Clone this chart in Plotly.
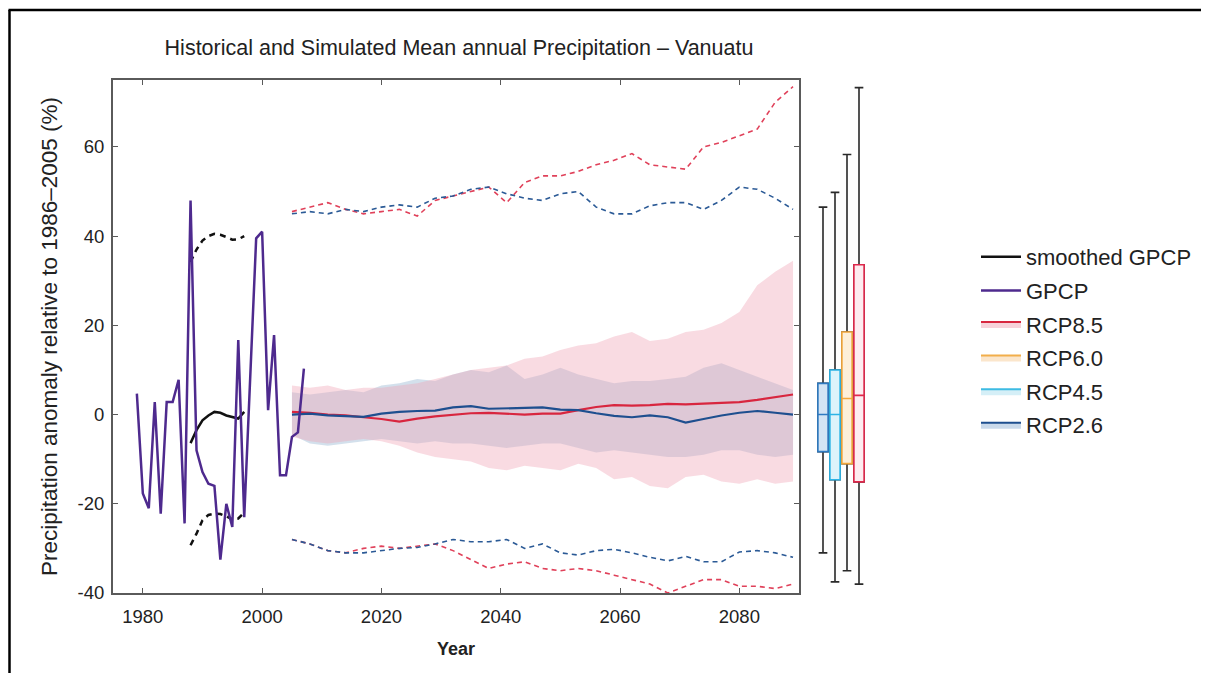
import plotly.graph_objects as go

# ---------------- data ----------------
gpcp_years = list(range(1979, 2008))
gpcp = [4.7, -17.7, -21.0, 2.8, -22.2, 2.8, 2.8, 7.8, -24.4, 48.0,
        -8.0, -12.9, -15.5, -16.0, -32.5, -20.0, -25.2, 16.7, -23.0, 8.0,
        39.5, 41.0, 1.0, 17.8, -13.6, -13.6, -5.0, -4.0, 10.3]

smooth_years = list(range(1988, 1998))
gpcp_smooth = [-6.4, -3.5, -1.3, -0.2, 0.6, 0.4, -0.2, -0.5, -0.9, 0.6]
gpcp_smooth_hi = [34.2, 37.0, 39.0, 40.0, 40.5, 40.3, 39.8, 39.2, 39.3, 40.0]
gpcp_smooth_lo = [-29.3, -26.7, -23.7, -22.5, -22.2, -22.3, -22.8, -23.5, -23.3, -22.0]

proj_years = list(range(2005, 2090, 3))

rcp85_mean = [0.6, 0.4, 0.0, -0.2, -0.6, -1.0, -1.6, -0.9, -0.4, 0.0,
              0.3, 0.4, 0.2, 0.0, 0.2, 0.2, 1.0, 1.7, 2.1, 2.0,
              2.1, 2.4, 2.3, 2.5, 2.6, 2.8, 3.3, 3.9, 4.5]
rcp26_mean = [0.0, 0.2, -0.2, -0.3, -0.5, 0.2, 0.6, 0.8, 0.9, 1.6,
              1.9, 1.3, 1.4, 1.5, 1.6, 1.1, 1.0, 0.3, -0.3, -0.6,
              -0.2, -0.6, -1.8, -1.0, -0.2, 0.4, 0.8, 0.4, 0.0]

rcp85_hi = [6.5, 6.0, 6.5, 5.5, 6.0, 6.0, 6.5, 7.0, 8.0, 9.0,
            10.0, 10.5, 11.0, 12.5, 13.0, 14.5, 15.5, 16.0, 17.5, 18.5,
            16.5, 17.0, 18.5, 19.0, 20.5, 23.0, 29.0, 32.0, 34.5]
rcp85_lo = [-5.0, -6.0, -6.5, -6.0, -5.5, -6.0, -7.0, -8.5, -9.5, -10.0,
            -10.5, -12.0, -12.5, -11.5, -12.0, -12.5, -11.0, -12.0, -14.5, -14.0,
            -16.0, -16.5, -14.0, -13.5, -15.0, -15.5, -14.5, -15.5, -15.0]
rcp26_hi = [5.0, 4.5, 5.0, 5.5, 5.0, 6.5, 7.0, 8.0, 7.5, 9.0,
            10.0, 9.5, 11.0, 8.0, 9.0, 10.5, 9.0, 8.0, 7.0, 7.5,
            7.5, 8.0, 8.5, 10.5, 11.5, 10.0, 8.5, 7.0, 5.5]
rcp26_lo = [-4.5, -6.5, -7.0, -6.5, -6.0, -5.5, -6.0, -6.5, -6.0, -6.5,
            -6.5, -7.0, -7.5, -7.0, -6.5, -6.5, -7.5, -8.5, -8.0, -8.5,
            -9.0, -9.5, -9.5, -9.0, -8.0, -8.0, -9.0, -9.5, -9.0]

rcp85_max = [45.5, 46.5, 47.5, 46.0, 45.0, 45.5, 46.0, 44.5, 48.0, 49.0,
             50.0, 51.0, 47.5, 52.0, 53.5, 53.5, 54.5, 56.0, 57.0, 58.5,
             56.0, 55.5, 55.0, 60.0, 61.0, 62.5, 64.0, 70.0, 73.5]
rcp85_min = [-28.0, -29.0, -30.5, -31.0, -30.0, -29.5, -30.0, -29.5, -29.0, -30.5,
             -32.5, -34.5, -33.5, -33.0, -34.5, -35.0, -34.5, -35.0, -36.0, -37.0,
             -38.0, -40.0, -38.5, -37.0, -37.0, -38.5, -38.5, -39.0, -38.0]
rcp26_max = [45.0, 45.5, 45.0, 46.0, 45.5, 46.5, 47.0, 46.5, 48.5, 49.0,
             50.5, 51.0, 49.5, 48.5, 48.0, 49.5, 50.0, 46.5, 45.0, 45.0,
             46.8, 47.5, 47.5, 46.0, 48.0, 51.0, 50.5, 48.5, 46.0]
rcp26_min = [-28.0, -29.0, -30.5, -31.0, -31.0, -30.5, -30.0, -29.8, -29.0, -28.0,
             -28.5, -28.5, -28.0, -30.0, -29.0, -31.0, -31.5, -30.5, -30.2, -31.0,
             -32.0, -32.8, -31.8, -33.0, -33.0, -30.8, -30.5, -31.0, -32.0]

# end-of-century box plots
box_names = ["RCP2.6", "RCP4.5", "RCP6.0", "RCP8.5"]
box_low = [-31.0, -37.5, -35.0, -38.0]
box_q1 = [-8.3, -14.6, -11.0, -15.1]
box_med = [0.0, 0.0, 3.6, 4.3]
box_q3 = [7.0, 10.0, 18.5, 33.6]
box_high = [46.5, 49.8, 58.3, 73.3]

x_ticks = [1980, 2000, 2020, 2040, 2060, 2080]
y_ticks = [-40, -20, 0, 20, 40, 60]

legend_names = ["smoothed GPCP", "GPCP", "RCP8.5", "RCP6.0", "RCP4.5", "RCP2.6"]

# ---------------- styles ----------------
FONT = "Liberation Sans, Arial, Helvetica, sans-serif"
TXT = "#222222"
C85, C60, C45, C26 = "#D8263F", "#F2AE4A", "#3DBBE3", "#1E4F8F"
BAND85 = "rgba(240,165,182,0.40)"
BAND26 = "rgba(130,165,200,0.35)"
box_line = ["#2F7BC2", "#2DB4E6", "#F3A83C", "#E0294C"]
box_fill = ["#D3E4F4", "#DDF3FB", "#FDEFD9", "#FDECF0"]
leg_band = ["#F7D2DA", "#FBE6CC", "#D5EFF7", "#CADAEB"]

fig = go.Figure()

def line(x, y, color, width, dash="solid", name=None, legend=False, rank=None):
    fig.add_trace(go.Scatter(x=x, y=y, mode="lines", name=name,
                             line=dict(color=color, width=width, dash=dash),
                             showlegend=legend, legendrank=rank,
                             legendgroup=name, hoverinfo="skip"))

# bands (RCP2.6 underneath, RCP8.5 translucent on top)
fig.add_trace(go.Scatter(x=proj_years, y=rcp26_hi, mode="lines", line=dict(width=0),
                         showlegend=False, hoverinfo="skip"))
fig.add_trace(go.Scatter(x=proj_years, y=rcp26_lo, mode="lines", line=dict(width=0),
                         fill="tonexty", fillcolor=BAND26, showlegend=False, hoverinfo="skip"))
fig.add_trace(go.Scatter(x=proj_years, y=rcp85_hi, mode="lines", line=dict(width=0),
                         showlegend=False, hoverinfo="skip"))
fig.add_trace(go.Scatter(x=proj_years, y=rcp85_lo, mode="lines", line=dict(width=0),
                         fill="tonexty", fillcolor=BAND85, showlegend=False, hoverinfo="skip"))

DASH = "5px,4px"
line(proj_years, rcp85_max, "#E0415A", 1.6, DASH)
line(proj_years, rcp85_min, "#E0415A", 1.6, DASH)
line(proj_years, rcp26_max, "#2B5A96", 1.6, DASH)
line(proj_years, rcp26_min, "#2B5A96", 1.6, DASH)

line(proj_years, rcp85_mean, C85, 2.2)
line(proj_years, rcp26_mean, C26, 2.2)

line(smooth_years, gpcp_smooth_hi, "#111111", 2.5, "6px,5px")
line(smooth_years, gpcp_smooth_lo, "#111111", 2.5, "6px,5px")
line(smooth_years, gpcp_smooth, "#111111", 2.5, name=legend_names[0], legend=True, rank=1)
line(gpcp_years, gpcp, "#4E2A8E", 2.5, name=legend_names[1], legend=True, rank=2)

# legend entries for the scenarios (band + central line)
for nm, lc, bc, rk in zip(legend_names[2:], [C85, C60, C45, C26], leg_band, [3, 4, 5, 6]):
    fig.add_trace(go.Scatter(x=[None], y=[None], mode="lines", name=nm, fill="toself",
                             fillcolor=bc, line=dict(color=lc, width=2),
                             showlegend=True, legendrank=rk, legendgroup=nm))

# box plots: whiskers (dark) then coloured boxes on top
for i, nm in enumerate(box_names):
    fig.add_trace(go.Box(x=[i], q1=[box_q1[i]], median=[box_med[i]], q3=[box_q3[i]],
                         lowerfence=[box_low[i]], upperfence=[box_high[i]],
                         xaxis="x2", yaxis="y", width=0.85, whiskerwidth=0.85,
                         line=dict(color="#2a2a2a", width=1.6), fillcolor="rgba(0,0,0,0)",
                         showlegend=False, hoverinfo="skip"))
    fig.add_trace(go.Box(x=[i], q1=[box_q1[i]], median=[box_med[i]], q3=[box_q3[i]],
                         lowerfence=[box_q1[i]], upperfence=[box_q3[i]],
                         xaxis="x2", yaxis="y", width=0.85, whiskerwidth=0,
                         line=dict(color=box_line[i], width=1.6), fillcolor=box_fill[i],
                         showlegend=False, hoverinfo="skip"))

# page body has an 8px margin -> work in screen pixels, offset by 8
OFF = 8
W, H = 1209 - OFF, 673 - OFF
L, T = 113 - OFF, 80 - OFF
pw, ph = 753, 513
R = W - L - pw
B = H - T - ph

def px(xs):
    return (xs - OFF - L) / pw

def py(ys):
    return (H - B - (ys - OFF)) / ph

axis_common = dict(showline=True, linecolor="#5a5a5a", linewidth=2, mirror="ticks",
                   ticks="inside", ticklen=5, tickcolor="#5a5a5a", tickwidth=1,
                   showgrid=False, zeroline=False,
                   tickfont=dict(family=FONT, size=18.5, color=TXT))

fig.update_layout(
    width=W, height=H,
    margin=dict(l=L, r=R, t=T, b=B, autoexpand=False),
    paper_bgcolor="white", plot_bgcolor="white",
    boxmode="overlay",
    title=dict(text="Historical and Simulated Mean annual Precipitation \u2013 Vanuatu",
               x=px(459), xref="paper", xanchor="center",
               y=1 - (47 - OFF) / H, yref="container", yanchor="middle",
               font=dict(family=FONT, size=21.5, color=TXT)),
    xaxis=dict(domain=[0, px(799)], range=[1975, 2090], tickvals=x_ticks,
               ticktext=[str(v) for v in x_ticks], ticklabelstandoff=6,
               title=dict(text="<b>Year</b>", standoff=16,
                          font=dict(family=FONT, size=18, color=TXT)),
               **axis_common),
    yaxis=dict(range=[-40, 75], tickvals=y_ticks, ticktext=[str(v) for v in y_ticks],
               ticklabelstandoff=3,
               title=dict(text="Precipitation anomaly relative to 1986\u20132005 (%)", standoff=14,
                          font=dict(family=FONT, size=22.5, color=TXT)),
               **axis_common),
    xaxis2=dict(domain=[px(817), px(865)], range=[-0.5, 3.5], anchor="y", visible=False),
    legend=dict(x=px(976), y=py(236), xanchor="left", yanchor="top",
                font=dict(family=FONT, size=22, color=TXT), itemwidth=40,
                tracegroupgap=2, traceorder="grouped",
                bgcolor="rgba(0,0,0,0)"),
    shapes=[
        dict(type="line", xref="paper", yref="paper", x0=px(9.5), x1=px(9.5),
             y0=py(700), y1=py(10), line=dict(color="black", width=2.5)),
        dict(type="line", xref="paper", yref="paper", x0=px(8.5), x1=px(1230),
             y0=py(10), y1=py(10), line=dict(color="black", width=2.5)),
    ],
)

fig.write_html("out.html")
